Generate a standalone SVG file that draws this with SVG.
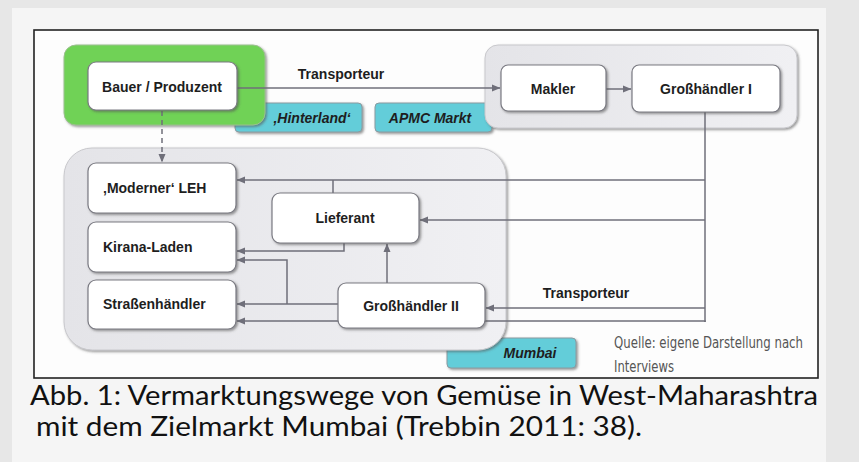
<svg xmlns="http://www.w3.org/2000/svg" width="859" height="462" viewBox="0 0 859 462">
<defs>
<marker id="ah" markerUnits="userSpaceOnUse" markerWidth="9" markerHeight="8" refX="8" refY="4" orient="auto">
<path d="M0,0.5 L8.5,4 L0,7.5 z" fill="#6f6f7a"/>
</marker>
<filter id="sh" x="-10%" y="-10%" width="130%" height="140%">
<feDropShadow dx="1.5" dy="1.5" stdDeviation="0.8" flood-color="#555" flood-opacity="0.6"/>
</filter>
<linearGradient id="gg" x1="0" y1="0" x2="1" y2="0">
<stop offset="0" stop-color="#e4e4e8"/>
<stop offset="1" stop-color="#f0f0f3"/>
</linearGradient>
</defs>
<style>
.node{fill:#ffffff;stroke:#7a7a82;stroke-width:1.2;filter:url(#sh)}
.grp{fill:url(#gg);stroke:#c8c8cc;stroke-width:1}
.cyan{fill:#63cdd9;stroke:#8a9aa0;stroke-width:1;filter:url(#sh)}
.t{font-family:"Liberation Sans",Arial,sans-serif;font-weight:bold;font-size:14px;fill:#1e1e1e}
.ti{font-family:"Liberation Sans",Arial,sans-serif;font-weight:bold;font-style:italic;font-size:14px;fill:#1e1e1e}
.c{text-anchor:middle}
.ln{fill:none;stroke:#6f6f7a;stroke-width:1.5}
.cap{font-family:Lato,"Open Sans",sans-serif;font-size:26px;fill:#111}
.src{font-family:"DejaVu Sans Condensed","Liberation Sans",sans-serif;font-stretch:condensed;font-size:15px;fill:#555}
</style>
<rect x="0" y="0" width="859" height="462" fill="#e7e7e7"/>
<rect x="12" y="8" width="814" height="454" fill="#f5f5f5"/>
<rect x="34" y="30" width="784" height="348" fill="#fdfdfd" stroke="#222" stroke-width="1.6"/>

<g id="labels">
<rect class="cyan" x="235" y="103" width="127" height="29" rx="4"/>
<text class="ti c" x="312" y="123">‚Hinterland‘</text>
<rect class="cyan" x="375" y="103" width="117" height="29" rx="4"/>
<text class="ti c" x="430" y="123">APMC Markt</text>
<rect class="cyan" x="447" y="338" width="129" height="30" rx="4"/>
<text class="ti c" x="530" y="358">Mumbai</text>
</g>

<g id="hinterland">
<rect x="64" y="45" width="201" height="80" rx="12" fill="#70d257" stroke="#9bbf8f" stroke-width="1" filter="url(#sh)"/>
</g>
<g id="apmc">
<rect class="grp" x="485" y="45" width="312" height="83" rx="13" filter="url(#sh)"/>
</g>
<g id="mumbai">
<rect class="grp" x="64" y="148" width="442" height="202" rx="28" filter="url(#sh)"/>
</g>

<g id="connectors">
<line class="ln" x1="237" y1="88" x2="500" y2="88" marker-end="url(#ah)"/>
<text class="t c" x="341" y="79">Transporteur</text>
<line class="ln" x1="606" y1="89" x2="631" y2="89" marker-end="url(#ah)"/>
<line class="ln" x1="162" y1="111" x2="162" y2="162" stroke-dasharray="5,4" marker-end="url(#ah)"/>
<line class="ln" x1="705" y1="112" x2="705" y2="322"/>
<line class="ln" x1="705" y1="180" x2="237" y2="180" marker-end="url(#ah)"/>
<line class="ln" x1="333" y1="193" x2="333" y2="180"/>
<line class="ln" x1="705" y1="220" x2="420" y2="220" marker-end="url(#ah)"/>
<polyline class="ln" points="344,243 344,251 237,251" marker-end="url(#ah)"/>
<line class="ln" x1="387" y1="283" x2="387" y2="244" marker-end="url(#ah)"/>
<line class="ln" x1="338" y1="304" x2="237" y2="304" marker-end="url(#ah)"/>
<polyline class="ln" points="287,304 287,260 237,260" marker-end="url(#ah)"/>
<polyline class="ln" points="705,322 705,321 237,321" marker-end="url(#ah)"/>
<line class="ln" x1="705" y1="308" x2="486" y2="308" marker-end="url(#ah)"/>
<text class="t c" x="586" y="298">Transporteur</text>
</g>

<g id="bauer"><rect class="node" x="88" y="62" width="149" height="48" rx="8"/><text class="t c" x="162" y="92">Bauer / Produzent</text></g>
<g id="makler"><rect class="node" x="501" y="65" width="105" height="46" rx="7"/><text class="t c" x="553" y="94">Makler</text></g>
<g id="gh1"><rect class="node" x="632" y="65" width="148" height="47" rx="7"/><text class="t c" x="706" y="94">Großhändler I</text></g>
<g id="leh"><rect class="node" x="88" y="163" width="148" height="50" rx="8"/><text class="t" x="103" y="193">‚Moderner‘ LEH</text></g>
<g id="kirana"><rect class="node" x="88" y="222" width="148" height="50" rx="8"/><text class="t" x="103" y="252">Kirana-Laden</text></g>
<g id="strasse"><rect class="node" x="88" y="280" width="148" height="49" rx="8"/><text class="t" x="103" y="309">Straßenhändler</text></g>
<g id="lieferant"><rect class="node" x="272" y="193" width="147" height="50" rx="8"/><text class="t c" x="345" y="223">Lieferant</text></g>
<g id="gh2"><rect class="node" x="338" y="283" width="147" height="45" rx="8"/><text class="t c" x="411" y="311">Großhändler II</text></g>

<text class="src" x="614" y="348" textLength="189" lengthAdjust="spacingAndGlyphs">Quelle: eigene Darstellung nach</text>
<text class="src" x="614" y="372" textLength="60" lengthAdjust="spacingAndGlyphs">Interviews</text>

<text class="cap" x="30" y="405" textLength="788" lengthAdjust="spacingAndGlyphs">Abb. 1: Vermarktungswege von Gemüse in West-Maharashtra</text>
<text class="cap" x="36" y="436" textLength="606" lengthAdjust="spacingAndGlyphs">mit dem Zielmarkt Mumbai (Trebbin 2011: 38).</text>
</svg>
